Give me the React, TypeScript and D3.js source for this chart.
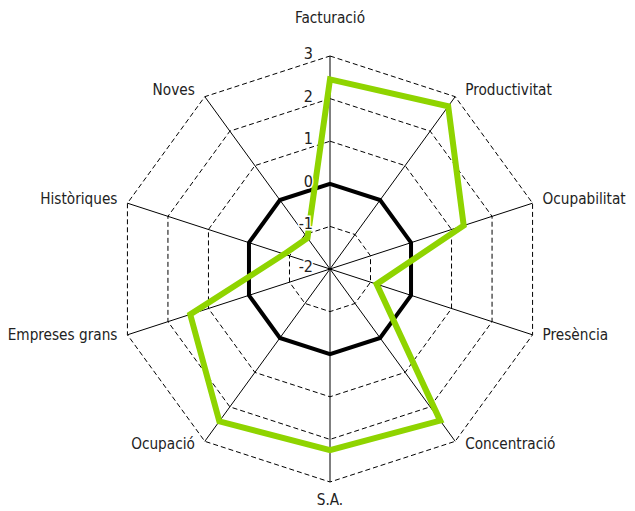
import React from 'react';
import * as d3 from 'd3';

const categories = ['Facturació', 'Productivitat', 'Ocupabilitat', 'Presència', 'Concentració', 'S.A.', 'Ocupació', 'Empreses grans', 'Històriques', 'Noves'];
const greenValues = [2.45, 2.72, 1.3, -0.85, 2.4, 2.25, 2.42, 1.45, -0.87, -1.1];
const blackValues = [0, 0, 0, 0, 0, 0, 0, 0, 0, 0];
const tickValues = [-2, -1, 0, 1, 2, 3];

const W = 635;
const H = 511;
const cx = 330;
const cy = 269;
const R = 213;
const FONT = "'DejaVu Sans Condensed', 'DejaVu Sans', sans-serif";

export default function App() {
  const n = categories.length;
  const r = d3.scaleLinear().domain([-2, 3]).range([0, R]);
  const angle = (i: number) => (i * 2 * Math.PI) / n;
  const line = d3
    .lineRadial<number>()
    .angle((_, i) => angle(i))
    .radius((d) => r(d))
    .curve(d3.curveLinearClosed);

  const ringLevels = tickValues.filter((t) => t > -2);
  const pt = (i: number, rad: number) => [rad * Math.sin(angle(i)), -rad * Math.cos(angle(i))];

  return (
    <svg width={W} height={H} style={{ position: 'absolute', left: 0, top: 0, background: '#fff' }} fontFamily={FONT}>
      <g transform={`translate(${cx},${cy})`}>
        {ringLevels.map((t) => (
          <path
            key={'ring' + t}
            d={line(new Array(n).fill(t)) || ''}
            fill="none"
            stroke="#000"
            strokeWidth={1}
            strokeDasharray="5,3"
          />
        ))}
        {categories.map((c, i) => {
          const [x, y] = pt(i, R);
          return <line key={'ax' + c} x1={0} y1={0} x2={x} y2={y} stroke="#000" strokeWidth={1} />;
        })}
        <path d={line(blackValues) || ''} fill="none" stroke="#000" strokeWidth={4} strokeLinejoin="miter" />
        <path d={line(greenValues) || ''} fill="none" stroke="#8fd400" strokeWidth={6} strokeLinejoin="miter" />
        {tickValues.map((t) => (
          <text
            key={'tk' + t}
            x={-17}
            y={-r(t) + 3}
            textAnchor="end"
            fontSize={16}
            fill="#222"
            stroke="#fff"
            strokeWidth={3}
            paintOrder="stroke"
          >
            {t}
          </text>
        ))}
        {categories.map((c, i) => {
          const a = angle(i);
          const s = Math.sin(a);
          const co = Math.cos(a);
          const [x, y] = pt(i, R);
          let anchor: 'start' | 'end' | 'middle' = 'middle';
          let tx = x;
          let ty = y;
          if (s > 0.01) {
            anchor = 'start';
            tx = x + 10;
            ty = y - 6 * co - 2;
          } else if (s < -0.01) {
            anchor = 'end';
            tx = x - 10;
            ty = y - 6 * co - 2;
          } else if (co > 0) {
            ty = y - 38;
          } else {
            ty = y + 18;
          }
          return (
            <text key={'lb' + c} x={tx} y={ty} textAnchor={anchor} dominantBaseline="central" fontSize={15.2} fill="#222">
              {c}
            </text>
          );
        })}
      </g>
    </svg>
  );
}
